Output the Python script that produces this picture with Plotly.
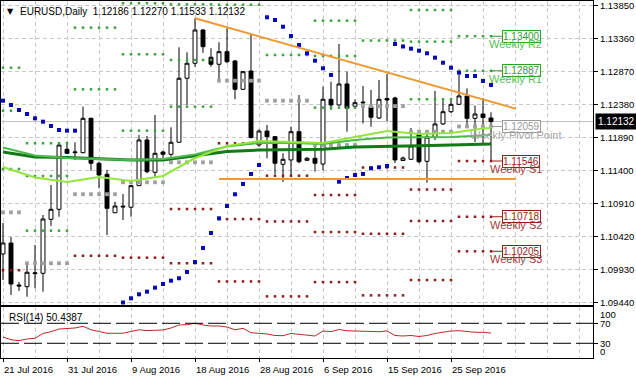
import plotly.graph_objects as go

# ---------------- data ----------------
bars = list(range(62))
opens = [1.10165, 1.10328, 1.09704, 1.09679, 1.09872, 1.09878, 1.10680, 1.10829, 1.11720, 1.11670,
         1.11670, 1.12181, 1.11513, 1.11349, 1.10778, 1.10862, 1.10859, 1.11180, 1.11859, 1.11379,
         1.11680, 1.11646, 1.11825, 1.12776, 1.12999, 1.13493, 1.13088, 1.12984, 1.13171, 1.13033,
         1.12612, 1.12884, 1.11784, 1.11992, 1.11908, 1.11498, 1.11562, 1.11982, 1.11557, 1.11587,
         1.11502, 1.12464, 1.12379, 1.12691, 1.12360, 1.12410, 1.12354, 1.12186, 1.12475, 1.12483,
         1.11554, 1.11572, 1.11963, 1.11542, 1.11899, 1.12097, 1.12279, 1.12389, 1.12513, 1.12181,
         1.12245, 1.12186]
highs = [1.10625, 1.10417, 1.09749, 1.10001, 1.10298, 1.10744, 1.11190, 1.11814, 1.11833, 1.11825,
         1.12354, 1.12190, 1.11537, 1.11413, 1.10942, 1.11056, 1.11190, 1.11933, 1.11918, 1.12230,
         1.11700, 1.12047, 1.13236, 1.13162, 1.13667, 1.13508, 1.13221, 1.13311, 1.13519, 1.13048,
         1.12884, 1.13419, 1.12018, 1.12082, 1.11918, 1.11661, 1.12056, 1.12527, 1.11606, 1.11755,
         1.12651, 1.12725, 1.13285, 1.12874, 1.12461, 1.12661, 1.12602, 1.12750, 1.12840, 1.12502,
         1.11614, 1.12037, 1.12007, 1.11978, 1.12587, 1.12478, 1.12483, 1.12825, 1.12627, 1.12371,
         1.12483, 1.12270]
lows = [1.09778, 1.09556, 1.09615, 1.09530, 1.09655, 1.09604, 1.10581, 1.10719, 1.11650, 1.11562,
        1.11661, 1.11403, 1.11141, 1.10447, 1.10770, 1.10670, 1.10719, 1.11175, 1.11364, 1.11313,
        1.11596, 1.11611, 1.11815, 1.12379, 1.12948, 1.13156, 1.12948, 1.12750, 1.12999, 1.12464,
        1.12602, 1.11881, 1.11759, 1.11587, 1.11354, 1.11235, 1.11313, 1.11513, 1.11547, 1.11388,
        1.11406, 1.12305, 1.12364, 1.11982, 1.12342, 1.12104, 1.12056, 1.12171, 1.12141, 1.11517,
        1.11547, 1.11562, 1.11513, 1.11224, 1.11859, 1.12082, 1.12260, 1.12379, 1.12056, 1.11829,
        1.11784, 1.11533]
closes = [1.10328, 1.09719, 1.09690, 1.09893, 1.09884, 1.10685, 1.10829, 1.11784, 1.11661, 1.11680,
          1.12181, 1.11513, 1.11339, 1.10844, 1.10878, 1.10874, 1.11180, 1.11859, 1.11388, 1.11661,
          1.11646, 1.11825, 1.12776, 1.12999, 1.13493, 1.13245, 1.12984, 1.13171, 1.13022, 1.12612,
          1.12874, 1.11896, 1.11992, 1.11908, 1.11513, 1.11572, 1.11982, 1.11536, 1.11587, 1.11513,
          1.12464, 1.12379, 1.12691, 1.12330, 1.12413, 1.12420, 1.12196, 1.12464, 1.12453, 1.11562,
          1.11591, 1.11770, 1.11536, 1.11903, 1.12097, 1.12279, 1.12389, 1.12513, 1.12181, 1.12245,
          1.12193, 1.12132]

# moving averages (read every 4 bars)
ma_x = [0, 4, 8, 12, 16, 20, 24, 28, 32, 36, 40, 44, 48, 52, 56, 60, 61]
ma_light = [1.11458, 1.11302, 1.11235, 1.11309, 1.11250, 1.11324, 1.11591, 1.11770, 1.11844,
            1.11829, 1.11814, 1.11903, 1.11993, 1.11948, 1.11963, 1.12030, 1.12037]
ma_mid = [1.11747, 1.11628, 1.11591, 1.11576, 1.11562, 1.11576, 1.11643, 1.11762, 1.11814,
          1.11814, 1.11799, 1.11859, 1.11896, 1.11899, 1.11903, 1.11926, 1.11933]
ma_dark = [1.11680, 1.11606, 1.11599, 1.11584, 1.11562, 1.11562, 1.11621, 1.11688, 1.11710,
           1.11718, 1.11721, 1.11755, 1.11759, 1.11773, 1.11784, 1.11796, 1.11799]

# parabolic SAR
sar = [1.12443, 1.12379, 1.12305, 1.12245, 1.12181, 1.12131, 1.12067, 1.12007, 1.11997, 1.11997,
       None, None, None, None, None, 1.09444, 1.09506, 1.09566, 1.09605, 1.09664,
       1.09719, 1.09768, 1.09804, 1.09897, 1.10046, 1.10254, 1.10477, 1.10695, 1.10878, 1.11052,
       1.11205, 1.11354, 1.11487, 1.13682, 1.13642, 1.13542, 1.13404, 1.13270, 1.13147, 1.13037,
       1.12924, 1.12825, 1.11239, 1.11294, 1.11339, 1.11354, 1.11438, 1.11453, 1.11472, 1.13285,
       1.13248, 1.13216, 1.13186, 1.13147, 1.13082, 1.13007, 1.12933, 1.12859, 1.12810, 1.12810,
       1.12736, 1.12676]

# weekly pivot levels (per week, bar ranges)
week_start = [0, 3, 9, 15, 21, 27, 33, 39, 45, 51, 57]
week_end = [2, 8, 14, 20, 26, 32, 38, 44, 50, 56, 61]
piv_r3 = [1.12933, 1.11810, None, 1.13890, 1.13874, None, None, 1.13632, None, 1.13790, None]
piv_r2 = [1.12294, 1.11324, 1.13528, 1.13132, 1.13048, None, None, 1.13107, None, 1.13320, 1.13400]
piv_r1 = [1.11428, 1.10511, 1.12612, 1.11997, 1.12354, 1.13869, 1.13122, 1.12339, 1.13336, 1.12464, 1.12887]
piv_pp = [1.10784, 1.10027, 1.11053, 1.11230, 1.11527, 1.12740, 1.12443, 1.11784, 1.12362, 1.11982, 1.12059]
piv_s1 = [1.09923, None, 1.10138, 1.10110, 1.10833, 1.11810, 1.11328, 1.11041, 1.11450, 1.11123, 1.11546]
piv_s2 = [None, None, None, None, 1.10027, 1.10684, 1.10649, 1.10491, 1.10465, 1.10655, 1.10718]
piv_s3 = [None, None, None, None, None, 1.09757, 1.09535, 1.09747, 1.09550, 1.09778, 1.10205]
pivot_names = ["Weekly R2", "Weekly R1", "Weekly Pivot Point", "Weekly S1", "Weekly S2", "Weekly S3"]

# trend lines
trend_x = [24, 64.1]
trend_y = [1.13667, 1.12324]
support_x = [27, 64.1]
support_y = [1.11279, 1.11279]

# RSI(14)
rsi = [42.6, 37.2, 35.2, 38.6, 40.0, 49.6, 53.2, 58.6, 59.6, 60.6, 64.0, 57.0, 53.6, 50.0, 50.0,
       50.2, 53.6, 57.0, 55.4, 56.0, 56.6, 60.6, 66.6, 67.2, 70.0, 66.6, 64.6, 64.6, 62.6, 57.0,
       60.0, 51.2, 50.0, 48.6, 45.6, 45.2, 49.6, 48.2, 47.2, 44.6, 54.6, 53.4, 57.6, 55.0, 54.6,
       54.2, 53.2, 53.2, 54.6, 45.6, 44.6, 45.6, 43.6, 45.6, 49.6, 52.0, 54.6, 55.2, 53.6, 52.0,
       52.0, 50.4387]
rsi_levels = [70, 30]

# axis ticks
price_ticks = [1.09440, 1.09930, 1.10420, 1.10910, 1.11400, 1.11890, 1.12380, 1.12870, 1.13360, 1.13850]
date_ticks = [0, 8, 16, 24, 32, 40, 48, 56]
date_labels = ["21 Jul 2016", "31 Jul 2016", "9 Aug 2016", "18 Aug 2016", "28 Aug 2016",
               "6 Sep 2016", "15 Sep 2016", "25 Sep 2016"]
rsi_tick_vals = [70, 30]
rsi_tick_text = ["70", "30"]
rsi_edge_vals = [86.6, 13.2]
rsi_edge_text = ["100", "0"]

# ---------------- styling ----------------
FONT = "Liberation Sans"
GREEN_DOT = "#3AA53A"
GRAY_DOT = "#A0A0A0"
RED_DOT = "#8B1C1C"
GRID = "#C8C8C8"
ORANGE = "#EE9A2E"
TICK_FONT = dict(family=FONT, size=9.5, color="black")

fig = go.Figure()


def level_points(levels_list):
    xs, ys = [], []
    for levels in levels_list:
        for ws, we, v in zip(week_start, week_end, levels):
            if v is None:
                continue
            for b in range(ws, we + 1):
                xs.append(b)
                ys.append(v)
    return xs, ys


gx, gy = level_points([piv_r3, piv_r2, piv_r1])
fig.add_trace(go.Scatter(x=gx, y=gy, mode="markers",
                         marker=dict(symbol="square", size=2.5, color=GREEN_DOT, line=dict(width=0))))
px_, py_ = level_points([piv_pp])
fig.add_trace(go.Scatter(x=px_, y=py_, mode="markers",
                         marker=dict(symbol="square", size=3.8, color=GRAY_DOT, line=dict(width=0))))
rx, ry = level_points([piv_s1, piv_s2, piv_s3])
fig.add_trace(go.Scatter(x=rx, y=ry, mode="markers",
                         marker=dict(symbol="square", size=2.5, color=RED_DOT, line=dict(width=0))))

# last-week label connectors and boxes
last_levels = [piv_r2[-1], piv_r1[-1], piv_pp[-1], piv_s1[-1], piv_s2[-1], piv_s3[-1]]
box_colors = ["#2E9E2E", "#2E9E2E", "#9A9A9A", "#9A1A1A", "#9A1A1A", "#9A1A1A"]
name_colors = ["#55C255", "#55C255", "#A8A8A8", "#A03A3A", "#A03A3A", "#A03A3A"]
label_x = 62.4
for v, c in zip(last_levels, box_colors):
    fig.add_trace(go.Scatter(x=[week_end[-1], label_x], y=[v, v], mode="lines",
                             line=dict(color=c, width=1)))

# bid line
fig.add_shape(type="line", xref="x domain", x0=0, x1=1, yref="y", y0=closes[-1], y1=closes[-1],
              line=dict(color="#C0C0C0", width=1), layer="below")

# candles
fig.add_trace(go.Candlestick(x=bars, open=opens, high=highs, low=lows, close=closes,
                             increasing=dict(fillcolor="white", line=dict(color="black", width=1)),
                             decreasing=dict(fillcolor="black", line=dict(color="black", width=1)),
                             whiskerwidth=0, hoverinfo="skip"))

# moving averages
fig.add_trace(go.Scatter(x=ma_x, y=ma_dark, mode="lines", line=dict(color="#147A17", width=3)))
fig.add_trace(go.Scatter(x=ma_x, y=ma_mid, mode="lines", line=dict(color="#4CBB4C", width=2)))
fig.add_trace(go.Scatter(x=ma_x, y=ma_light, mode="lines", line=dict(color="#92E63C", width=2)))

# SAR
fig.add_trace(go.Scatter(x=bars, y=sar, mode="markers",
                         marker=dict(symbol="square", size=4, color="#0808C0", line=dict(width=0))))

# trend lines
fig.add_trace(go.Scatter(x=trend_x, y=trend_y, mode="lines", line=dict(color=ORANGE, width=2)))
fig.add_trace(go.Scatter(x=support_x, y=support_y, mode="lines", line=dict(color=ORANGE, width=2)))

# RSI
fig.add_trace(go.Scatter(x=bars, y=rsi, mode="lines", line=dict(color="#C0282D", width=1),
                         xaxis="x2", yaxis="y2"))
for lv in rsi_levels:
    fig.add_shape(type="line", xref="x2 domain", x0=0, x1=1, yref="y2", y0=lv, y1=lv,
                  line=dict(color="black", width=1, dash="18px,5px"))

# annotations
ann = []
for v, c, nc, nm in zip(last_levels, box_colors, name_colors, pivot_names):
    ann.append(dict(x=label_x, y=v, xref="x", yref="y", xanchor="left", yanchor="middle",
                    text=f"{v:.5f}", showarrow=False, font=dict(family=FONT, size=10, color=c),
                    bordercolor=c, borderwidth=1, borderpad=0, bgcolor="white"))
    ann.append(dict(x=64.1, y=v, xref="x", yref="y", xanchor="center", yanchor="middle", yshift=-8,
                    text=nm, showarrow=False, font=dict(family=FONT, size=11, color=nc)))

for v, t in zip(rsi_edge_vals, rsi_edge_text):
    ann.append(dict(x=1, xshift=5, y=v, xref="paper", yref="y2", xanchor="left", yanchor="middle",
                    text=t, showarrow=False, font=TICK_FONT))

ann.append(dict(x=1, xshift=2, y=closes[-1], xref="paper", yref="y", xanchor="left", yanchor="middle",
                text=f"{closes[-1]:.5f}", showarrow=False, bgcolor="black",
                font=dict(family=FONT, size=10, color="white"), borderpad=2))
ann.append(dict(x=9.5 / 592, y=1 - 10 / 357, xref="paper", yref="paper", xanchor="center",
                yanchor="middle", text="▼", showarrow=False, font=dict(family="DejaVu Sans", size=8, color="black")))
title_txt = f"EURUSD,Daily  {opens[-1]:.5f} {highs[-1]:.5f} {lows[-1]:.5f} {closes[-1]:.5f}"
ann.append(dict(x=17 / 592, y=1 - 10 / 357, xref="paper", yref="paper", xanchor="left", yanchor="middle",
                text=title_txt, showarrow=False, font=dict(family=FONT, size=10, color="black")))
ann.append(dict(x=6 / 592, y=(358 - 317) / 357, xref="paper", yref="paper", xanchor="left",
                yanchor="middle", text=f"RSI(14) {rsi[-1]:.4f}", showarrow=False,
                font=dict(family=FONT, size=10, color="black")))

grid_kw = dict(showgrid=True, gridcolor=GRID, griddash="4px,3px", gridwidth=1)
minor_kw = dict(tick0=0, dtick=4, showgrid=True, gridcolor=GRID, griddash="4px,3px", ticks="")
xr = [-0.25, 73.75]

fig.update_layout(
    width=636, height=379,
    margin=dict(l=1, r=43, t=1, b=21, pad=0, autoexpand=False),
    paper_bgcolor="white", plot_bgcolor="white",
    showlegend=False,
    font=dict(family=FONT, size=10, color="black"),
    annotations=ann,
    xaxis=dict(domain=[0, 1], anchor="y", range=xr, tickvals=date_ticks, showticklabels=False,
               ticks="", showline=True, mirror=True, linecolor="black", linewidth=1, zeroline=False,
               minor=minor_kw, rangeslider=dict(visible=False), automargin=False, **grid_kw),
    xaxis2=dict(domain=[0, 1], anchor="y2", matches="x", range=xr, tickvals=date_ticks,
                ticktext=date_labels, ticks="outside", ticklen=3, tickcolor="black", tickangle=0,
                ticklabelposition="outside right", ticklabelstandoff=3, showline=True, mirror=True,
                linecolor="black", linewidth=1, zeroline=False, minor=minor_kw, automargin=False,
                tickfont=TICK_FONT, **grid_kw),
    yaxis=dict(domain=[0.1485, 1], anchor="x", side="right", range=[1.09407, 1.13924],
               tickvals=price_ticks, ticktext=[f"{v:.5f}" for v in price_ticks],
               ticks="outside", ticklen=4, tickcolor="black", showline=True, mirror=True,
               linecolor="black", linewidth=1, zeroline=False, automargin=False,
               tickfont=TICK_FONT, **grid_kw),
    yaxis2=dict(domain=[0, 0.1429], anchor="x2", side="right", range=[0.6, 102.6],
                tickvals=rsi_tick_vals, ticktext=rsi_tick_text, ticks="outside", ticklen=4,
                tickcolor="black", showgrid=False, showline=True, mirror=True, linecolor="black",
                linewidth=1, zeroline=False, automargin=False, tickfont=TICK_FONT),
)

fig.write_html("out.html", config={"displayModeBar": False},
               post_script="document.body.style.margin='0px';")
